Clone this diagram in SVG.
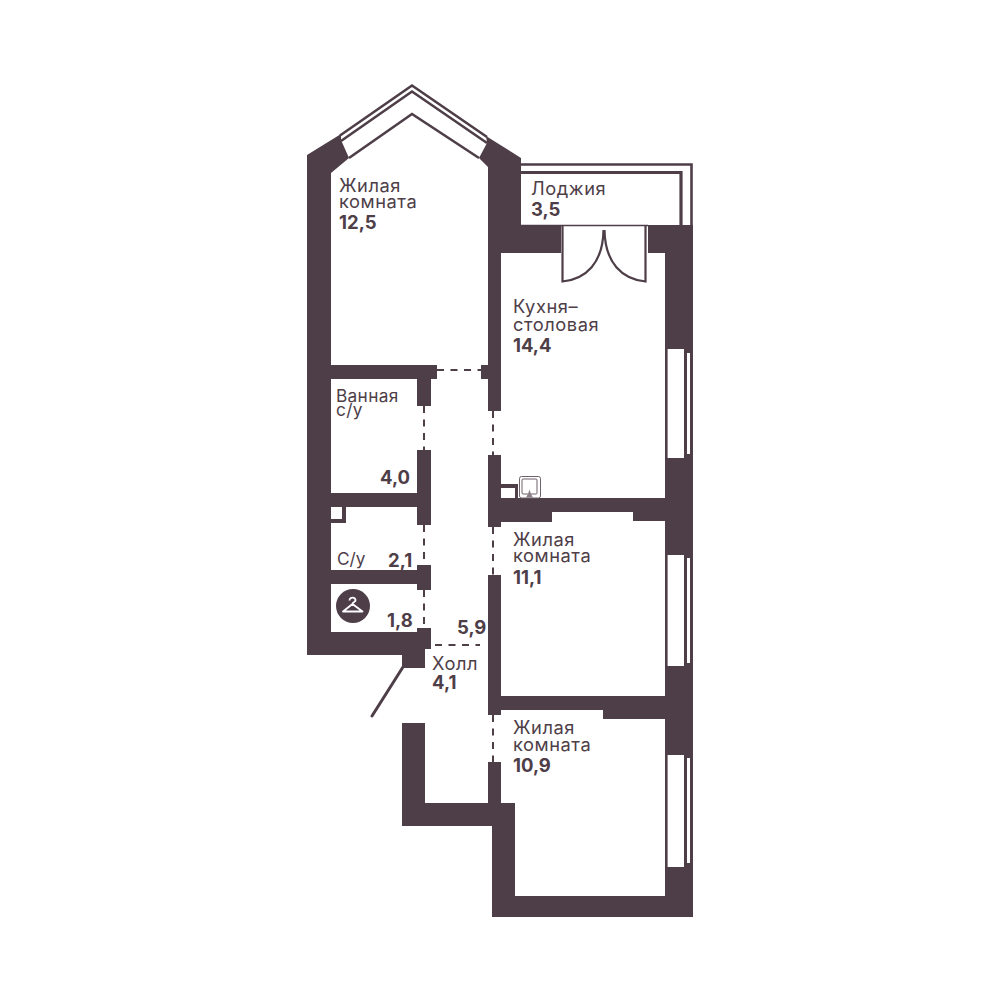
<svg xmlns="http://www.w3.org/2000/svg" width="1000" height="1000" viewBox="0 0 1000 1000">
<style>
.w{fill:#4e3e48;stroke:none}
.l{fill:none;stroke:#4e3e48;stroke-width:2.6;stroke-linejoin:miter}
.d{fill:none;stroke:#4e3e48;stroke-width:2;stroke-dasharray:7 6.5}
.t{font-family:"Inter","Liberation Sans",sans-serif;font-size:18.3px;letter-spacing:.55px;fill:#4e3e48}
.s{font-size:17.3px;letter-spacing:.3px}
.n{font-family:"Inter","Liberation Sans",sans-serif;font-size:18.5px;font-weight:700;fill:#4e3e48}
</style>
<rect width="1000" height="1000" fill="#fff"/>
<g id="walls">
<path class="w" d="M307 155L341 134V140L349 158L331 173V365H437V379H431V406H417V379H331V493H417V450H431V525H417V507H346V523H331V570H417V565H431V590H417V584H331V632H417V628H431V649H425V668H402V655H307Z"/>
<path d="M331 507H342V519H331Z" fill="#fff"/>
<path class="w" d="M486 136L521 158V225H561V253H501V411H488V379H481V365H488V167L479 158L487 143Z"/>
<path class="w" d="M488 455H501V484H518V498H665V253H648V225H693V917H492V826H402V723H425V803H488V762H501V803H515V896H665V719H603V710H501V715H488V575H501V696H665V521H633V512H552V522H501V527H488Z"/>
<rect x="501" y="488" width="14" height="10" fill="#fff"/>
</g>
<g id="windows">
<rect x="667.6" y="349" width="16.4" height="109" fill="#fff"/>
<rect x="687" y="353" width="3" height="101" fill="#fff"/>
<rect x="667.6" y="555" width="16.4" height="111" fill="#fff"/>
<rect x="687" y="558" width="3" height="105" fill="#fff"/>
<rect x="667.6" y="755" width="16.4" height="112" fill="#fff"/>
<rect x="687" y="758" width="3" height="105" fill="#fff"/>
<path class="l" d="M340 135.500L412 85.500L487 137"/>
<path class="l" d="M341 141L412 91.500L487 143"/>
<path class="l" d="M349 158L412 114L479 158"/>
</g>
<g id="loggia">
<path class="l" d="M521 164.500H691.500V225"/>
<path class="l" style="stroke-width:3.2" d="M521 172.500H681V225"/>
<path class="l" style="stroke-width:1.500" d="M521 225.500H648"/>
</g>
<g id="balcony-door">
<path class="l" style="stroke-width:2.200" d="M562.500 226V281.500C586 279 603 263 603.500 230"/>
<path class="l" style="stroke-width:2.200" d="M645.500 226V281.500C622 279 605 263 604.500 230"/>
</g>
<g id="stove">
<rect x="519.500" y="476.500" width="21" height="21.500" rx="2" fill="#fff" stroke="#6f626a" stroke-width="1"/>
<rect x="522" y="479" width="15" height="15" rx="1" fill="none" stroke="#6f626a" stroke-width="1"/>
<path d="M526 497.500H533L531 494L529.500 489.500L528 494Z" fill="#8b8087"/>
</g>
<g id="entry-door">
<path d="M403 667L372 716" fill="none" stroke="#4e3e48" stroke-width="3" stroke-linecap="round"/>
</g>
<g id="openings">
<path class="d" d="M437 370H481"/>
<path class="d" d="M435 645H480"/>
<path class="d" d="M424 406V450"/>
<path class="d" d="M424 525V565"/>
<path class="d" d="M424 590V628"/>
<path class="d" d="M493 411V455"/>
<path class="d" d="M493 527V575"/>
<path class="d" d="M493 715V762"/>
</g>
<g id="wardrobe-icon">
<circle cx="353" cy="606" r="17" fill="#4e3e48"/>
<path d="M349.500 600.500C349.500 596.500 356 597 355.500 600.500C355.300 602 352.500 602 352.500 604L362.500 611.500H343L352.500 604" fill="none" stroke="#fff" stroke-width="1.800" stroke-linejoin="round"/>
</g>
<g id="labels">
<text class="t" x="339" y="192">Жилая<tspan x="339" y="207.500">комната</tspan></text><text class="n" x="339" y="229">12,5</text>
<text class="t" x="531" y="195">Лоджия</text><text class="n" x="531" y="216">3,5</text>
<text class="t" x="513" y="313">Кухня–<tspan x="513" y="331">столовая</tspan></text><text class="n" x="513" y="352">14,4</text>
<text class="t s" x="336" y="402">Ванная<tspan x="336" y="416">с/у</tspan></text><text class="n" x="380" y="484">4,0</text>
<text class="t s" x="337" y="565" style="letter-spacing:0">С/у</text><text class="n" x="388" y="567">2,1</text>
<text class="n" x="387" y="627">1,8</text><text class="n" x="457" y="634">5,9</text>
<text class="t" x="432" y="670">Холл</text><text class="n" x="432" y="689">4,1</text>
<text class="t" x="513" y="546">Жилая<tspan x="513" y="562">комната</tspan></text><text class="n" x="513" y="584">11,1</text>
<text class="t" x="513" y="734">Жилая<tspan x="513" y="751">комната</tspan></text><text class="n" x="513" y="772">10,9</text>
</g>
</svg>
